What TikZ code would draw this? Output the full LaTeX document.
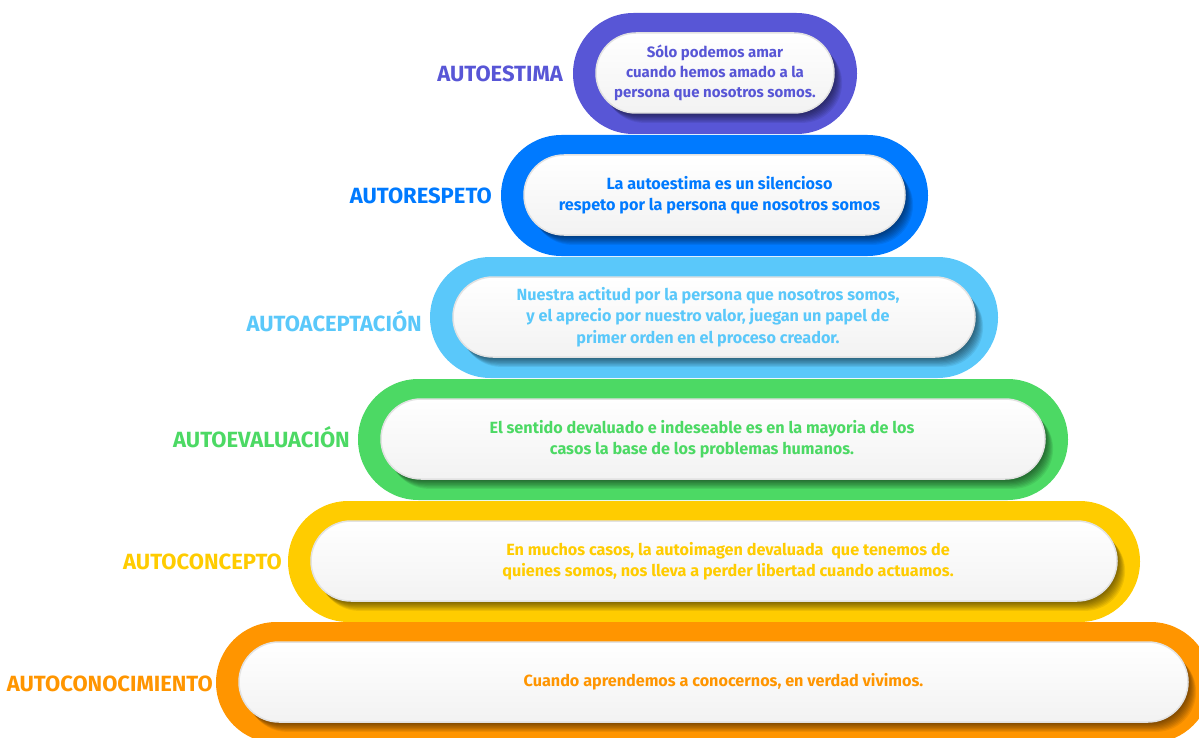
\documentclass[tikz,border=0pt]{standalone}
\usepackage{fontspec}
\setmainfont{Fira Sans}
\usetikzlibrary{positioning}
\definecolor{autoestimaColor}{HTML}{5856D6}
\definecolor{autorespetoColor}{HTML}{007AFF}
\definecolor{autoaceptacionColor}{HTML}{5AC8FA}
\definecolor{autoevaluacionColor}{HTML}{4CD964}
\definecolor{autoconceptoColor}{HTML}{FFCC00}
\definecolor{autoconocimientoColor}{HTML}{FF9500}
\definecolor{innerEdge}{HTML}{E2E2E2}
\tikzstyle{pyramid} = [x = 1pt, y = -1pt]
\tikzstyle{bandStyle} = [rounded corners = 60.5]
\tikzstyle{innerStyle} = [rounded corners = 40, top color=white, bottom color=black!5, draw=innerEdge, line width=1.5pt]
\tikzstyle{shadowStyle} = [rounded corners = 40, fill=black, opacity=0.07]
\tikzstyle{bandLabel} = [anchor=base east, inner sep=0pt, font=\fontsize{22}{24}\selectfont\bfseries]
\tikzstyle{bandText} = [align=center, inner sep=0pt, font=\fontsize{16.2}{21.5}\selectfont\bfseries]
% per step tweaks of the text
\tikzset{
  textAutoestima/.style = {font=\fontsize{15}{20}\selectfont\bfseries},
  textAutorespeto/.style = {xshift=5},
  textAutoaceptacion/.style = {xshift=-6},
  textAutoevaluacion/.style = {xshift=-11},
  textAutoconcepto/.style = {xshift=14},
  textAutoconocimiento/.style = {xshift=10}
}
% #1 name, #2 left, #3 top, #4 right, #5 colour, #6 label, #7 text, #8 #9 label end
\newcommand{\pyramidStep}[9]{
  \fill [bandStyle, #5] (#2, #3) rectangle (#4, #3 + 121);
  \foreach \s in {1,...,9} {
    \fill [shadowStyle] (#2 + 23 + \s * 0.9, #3 + 20 + \s * 1.1) rectangle (#4 - 23 + \s * 0.9, #3 + 100 + \s * 1.1);
  }
  \filldraw [innerStyle] (#2 + 23, #3 + 20) rectangle (#4 - 23, #3 + 100);
  \node (text#1) [bandText, text#1/.try, text=#5] at ({(#2 + #4) / 2}, #3 + 60) {#7};
  \node (label#1) [bandLabel, text=#5] at (#8, #9) {#6};
}

\begin{document}
\begin{tikzpicture}[pyramid]
\useasboundingbox (0, 0) rectangle (1199, 738);
\clip (0, 0) rectangle (1199, 738);
\pyramidStep{Autoestima}{573}{13}{857}{autoestimaColor}{AUTOESTIMA}{Sólo podemos amar\\cuando hemos amado a la\\persona que nosotros somos.}{563}{82}
\pyramidStep{Autorespeto}{501}{135}{928}{autorespetoColor}{AUTORESPETO}{La autoestima es un silencioso\\respeto por la persona que nosotros somos}{492}{204}
\pyramidStep{Autoaceptacion}{430}{257}{998}{autoaceptacionColor}{AUTOACEPTACIÓN}{Nuestra actitud por la persona que nosotros somos,\\y el aprecio por nuestro valor, juegan un papel de\\primer orden en el proceso creador.}{422}{331}
\pyramidStep{Autoevaluacion}{358}{379}{1068}{autoevaluacionColor}{AUTOEVALUACIÓN}{El sentido devaluado e indeseable es en la mayoria de los\\casos la base de los problemas humanos.}{350}{447}
\pyramidStep{Autoconcepto}{288}{501}{1140}{autoconceptoColor}{AUTOCONCEPTO}{En muchos casos, la autoimagen devaluada\ \ que tenemos de\\quienes somos, nos lleva a perder libertad cuando actuamos.}{282}{569}
\pyramidStep{Autoconocimiento}{216}{622}{1211}{autoconocimientoColor}{AUTOCONOCIMIENTO}{Cuando aprendemos a conocernos, en verdad vivimos.}{213}{691}
\end{tikzpicture}
\end{document}
